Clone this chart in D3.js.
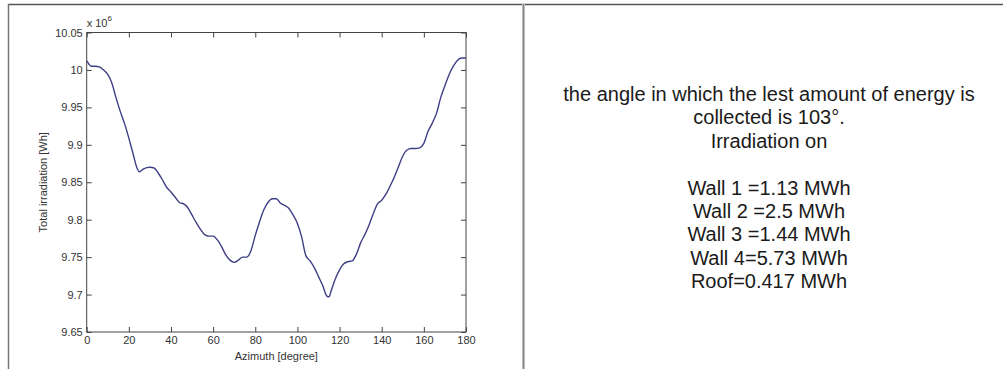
<style>
body {
    margin: 0;
    background: #fff;
}
.tick text {
    font: 11px "Liberation Sans", Arial, sans-serif;
    fill: #333;
}
.tick line {
    stroke: #444;
}
.axisLabel {
    font: 11px "Liberation Sans", Arial, sans-serif;
    fill: #333;
}
.note {
    font: 20px "Liberation Sans", Arial, sans-serif;
    fill: #1a1a1a;
}
</style>
<div id="THE_CONTAINER"></div>
<script src="https://cdn.jsdelivr.net/npm/d3@7"></script>
<script>

// azimuth in degrees, irradiation in 10^6 Wh
const azimuth = [0, 1, 2, 4, 6, 8, 10, 12, 14, 16, 18, 20, 22, 24, 25, 27, 30, 32, 34, 36, 38, 40,
    42, 44, 46, 48, 50, 52, 54, 56, 58, 60, 62, 64, 66, 68, 70, 72, 74, 76, 78, 80, 82, 84, 86,
    88, 90, 92, 94, 96, 98, 100, 102, 104, 106, 108, 110, 112, 114, 115, 116, 118, 120, 122,
    124, 126, 128, 130, 132, 134, 136, 138, 140, 142, 144, 146, 148, 150, 152, 154, 156, 158,
    160, 162, 164, 166, 168, 170, 172, 174, 176, 178, 180];
const irradiation = [10.012, 10.008, 10.005, 10.005, 10.004, 10.000, 9.994, 9.982, 9.962, 9.944,
    9.928, 9.909, 9.888, 9.868, 9.864, 9.868, 9.870, 9.869, 9.862, 9.853, 9.843, 9.837,
    9.830, 9.823, 9.821, 9.816, 9.806, 9.796, 9.787, 9.780, 9.778, 9.778, 9.773, 9.764, 9.753,
    9.746, 9.743, 9.746, 9.750, 9.750, 9.759, 9.779, 9.797, 9.813, 9.823,
    9.828, 9.828, 9.822, 9.819, 9.815, 9.806, 9.795, 9.777, 9.752, 9.745, 9.736, 9.724, 9.712,
    9.698, 9.697, 9.705, 9.721, 9.733, 9.741,
    9.744, 9.745, 9.754, 9.769, 9.780, 9.793, 9.808, 9.821, 9.826, 9.834, 9.845, 9.857, 9.871,
    9.885, 9.893, 9.895, 9.895, 9.896,
    9.902, 9.918, 9.929, 9.942, 9.963, 9.979, 9.994, 10.005, 10.013, 10.016, 10.016];

const xTicks = [0, 20, 40, 60, 80, 100, 120, 140, 160, 180];
const yTicks = [9.65, 9.7, 9.75, 9.8, 9.85, 9.9, 9.95, 10, 10.05];

const noteLines = [
    "the angle in which the lest amount of energy is",
    "collected is 103°.",
    "Irradiation on",
    "",
    "Wall 1 =1.13 MWh",
    "Wall 2 =2.5 MWh",
    "Wall 3 =1.44 MWh",
    "Wall 4=5.73 MWh",
    "Roof=0.417 MWh"
];

const W = 1003, H = 369;
const svg = d3.select("#THE_CONTAINER")
.append("svg")
.attr("width", W)
.attr("height", H);

// table frame
svg.append("line").attr("x1", 8).attr("x2", W).attr("y1", 4.5).attr("y2", 4.5)
.attr("stroke", "#555").attr("stroke-width", 1.5);
svg.append("line").attr("x1", 8.5).attr("x2", 8.5).attr("y1", 4).attr("y2", H)
.attr("stroke", "#777").attr("stroke-width", 1.5);
svg.append("line").attr("x1", 523.5).attr("x2", 523.5).attr("y1", 4).attr("y2", H)
.attr("stroke", "#bbb").attr("stroke-width", 3);
svg.append("line").attr("x1", 523.5).attr("x2", 523.5).attr("y1", 4).attr("y2", H)
.attr("stroke", "#888").attr("stroke-width", 1);

// plot area
const pLeft = 86.7, pRight = 466, pTop = 32.5, pBottom = 332;
const x = d3.scaleLinear().domain([0, 180]).range([pLeft, pRight]);
const y = d3.scaleLinear().domain([9.65, 10.05]).range([pBottom, pTop]);

const fmt = d => String(+d.toFixed(2));

svg.append("g").attr("transform", `translate(0,${pBottom})`)
.call(d3.axisBottom(x).tickValues(xTicks).tickSize(-5).tickPadding(4).tickFormat(fmt))
.call(g => g.select(".domain").remove());
svg.append("g").attr("transform", `translate(0,${pTop})`)
.call(d3.axisTop(x).tickValues(xTicks).tickSize(-5).tickFormat(""))
.call(g => g.select(".domain").remove());
svg.append("g").attr("transform", `translate(${pLeft},0)`)
.call(d3.axisLeft(y).tickValues(yTicks).tickSize(-5).tickPadding(4).tickFormat(fmt))
.call(g => g.select(".domain").remove());
svg.append("g").attr("transform", `translate(${pRight},0)`)
.call(d3.axisRight(y).tickValues(yTicks).tickSize(-5).tickFormat(""))
.call(g => g.select(".domain").remove());

svg.append("rect")
.attr("x", pLeft).attr("y", pTop)
.attr("width", pRight - pLeft).attr("height", pBottom - pTop)
.attr("fill", "none").attr("stroke", "#444").attr("stroke-width", 1);

// exponent label
const expo = svg.append("text").attr("class", "axisLabel").attr("x", pLeft).attr("y", 27);
expo.append("tspan").text("x 10");
expo.append("tspan").attr("font-size", "8px").attr("dy", -6).text("6");

svg.append("text").attr("class", "axisLabel")
.attr("text-anchor", "middle")
.attr("x", (pLeft + pRight) / 2).attr("y", 360)
.text("Azimuth [degree]");

svg.append("text").attr("class", "axisLabel")
.attr("text-anchor", "middle")
.attr("transform", `translate(46.5,${(pTop + pBottom) / 2}) rotate(-90)`)
.text("Total irradiation [Wh]");

const line = d3.line()
.x((d, i) => x(azimuth[i]))
.y(d => y(d))
.curve(d3.curveMonotoneX);

svg.append("path")
.datum(irradiation)
.attr("d", line)
.attr("fill", "none")
.attr("stroke", "#3e3f85")
.attr("stroke-width", 1.4);

// notes on the right
svg.selectAll(".note")
.data(noteLines)
.enter()
.append("text")
.attr("class", "note")
.attr("text-anchor", "middle")
.attr("x", 769)
.attr("y", (_, i) => 101 + i * 23.4)
.text(d => d);

</script>
